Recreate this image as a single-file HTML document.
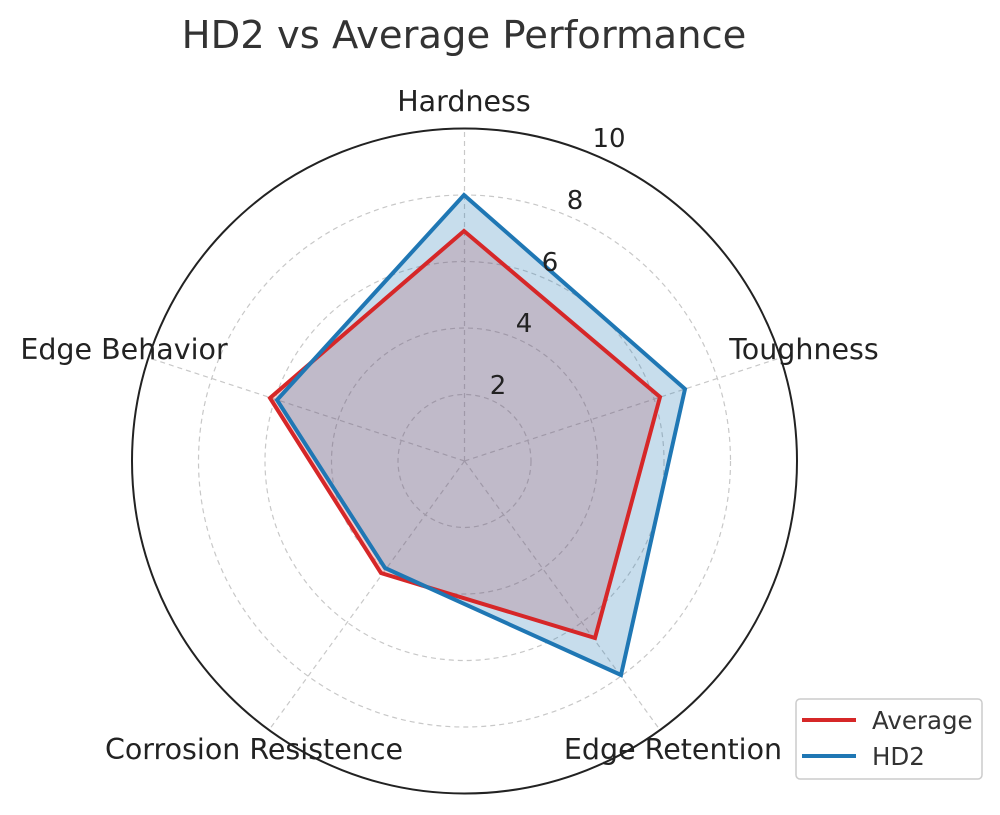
<!DOCTYPE html>
<html><head><meta charset="utf-8"><style>
body{margin:0;background:#fff}
svg text{font-family:"DejaVu Sans","Liberation Sans",sans-serif}
</style></head><body>
<svg width="1000" height="810" viewBox="0 0 1000 810" xmlns="http://www.w3.org/2000/svg">
<rect width="1000" height="810" fill="#fff"/>
<text x="464" y="48" font-size="38.5" fill="#333" text-anchor="middle">HD2 vs Average Performance</text>
<g fill="none" stroke="#c8c8c8" stroke-width="1.2" stroke-dasharray="5,4">
<circle cx="464.5" cy="461" r="66.5"/>
<circle cx="464.5" cy="461" r="133"/>
<circle cx="464.5" cy="461" r="199.5"/>
<circle cx="464.5" cy="461" r="266"/>
<line x1="464.5" y1="461" x2="464.5" y2="129"/>
<line x1="464.5" y1="461" x2="780" y2="358"/>
<line x1="464.5" y1="461" x2="660" y2="730"/>
<line x1="464.5" y1="461" x2="269" y2="730"/>
<line x1="464.5" y1="461" x2="149" y2="358"/>
</g>
<polygon points="464,231 660,397 595,638 381,573 270,398" fill="#d62728" fill-opacity="0.22"/>
<polygon points="464,195 685,389 621,675 385,568 277,400" fill="#1f77b4" fill-opacity="0.25"/>
<polygon points="464,231 660,397 595,638 381,573 270,398" fill="none" stroke="#d62728" stroke-width="4"/>
<polygon points="464,195 685,389 621,675 385,568 277,400" fill="none" stroke="#1f77b4" stroke-width="4"/>
<circle cx="464.5" cy="461" r="332.5" fill="none" stroke="#222" stroke-width="2"/>
<g font-size="26" fill="#222" text-anchor="middle">
<text x="498" y="394">2</text>
<text x="524" y="332">4</text>
<text x="550" y="271">6</text>
<text x="575" y="209">8</text>
<text x="609" y="147">10</text>
</g>
<g font-size="28.5" fill="#222" text-anchor="middle">
<text x="464" y="111">Hardness</text>
<text x="804" y="359">Toughness</text>
<text x="673" y="759">Edge Retention</text>
<text x="254" y="759">Corrosion Resistence</text>
<text x="124" y="359">Edge Behavior</text>
</g>
<rect x="796" y="699" width="186" height="80" rx="4" fill="#fff" stroke="#ccc" stroke-width="1.5"/>
<line x1="802" y1="720" x2="856" y2="720" stroke="#d62728" stroke-width="4"/>
<line x1="802" y1="756" x2="856" y2="756" stroke="#1f77b4" stroke-width="4"/>
<text x="872" y="729" font-size="24.5" fill="#333">Average</text>
<text x="872" y="765" font-size="24.5" fill="#333">HD2</text>
</svg>
</body></html>
